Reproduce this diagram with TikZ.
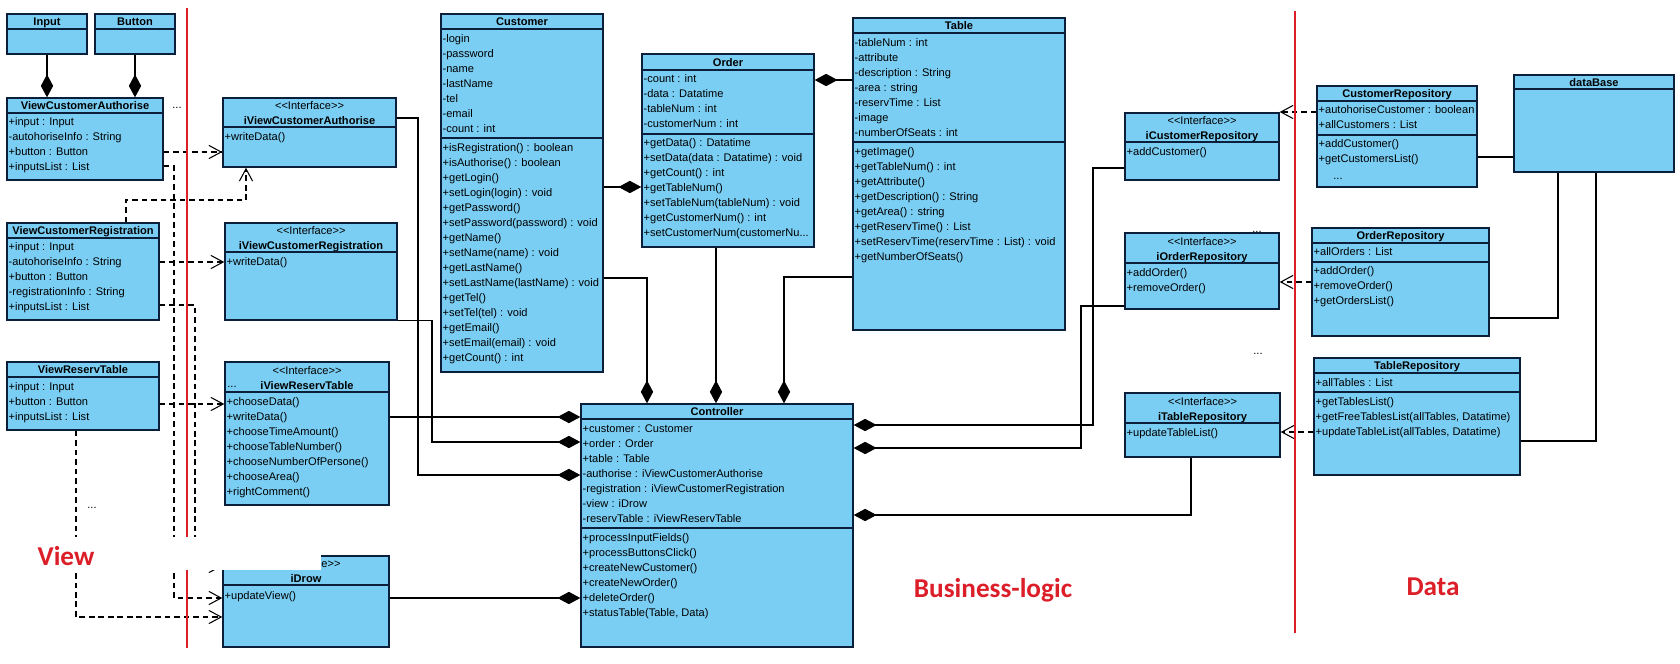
\documentclass[tikz,border=0pt]{standalone}
\usepackage{fontspec}
\setmainfont{Liberation Sans}
\newfontfamily\lblfont{Carlito}
\usetikzlibrary{arrows.meta,calc,fit}
\definecolor{cbox}{HTML}{7ACEF4}
\definecolor{cedge}{HTML}{0B1F3A}
\definecolor{rule}{HTML}{DC1E28}

% box of a class, from its corners (pixel units)
\newcommand\umlclass[5]{\node[cls,fit={(#2,#3) (#4,#5)}] (#1) {};}
\newcommand\classrule[2]{\draw[cedge,line width=.8pt] (#1.west |- 0,#2) -- (#1.east |- 0,#2);}
\newcommand\entries[3]{\foreach \entry [count=\i from 0] in {#3}
  \node[row] (#1-#2-\i) at ($(#1.west |- 0,#2)+(2,15*\i+3.5)$) {\entry};}
\newcommand\stereo{<\kern0pt<Interface>\kern0pt>}

\begin{document}
\begin{tikzpicture}[x=0.02cm,y=-0.02cm,
  cls/.style={draw=cedge,fill=cbox,line width=.8pt,inner sep=0pt},
  row/.style={anchor=base west,inner sep=0pt,font=\fontsize{6.3}{7.5}\selectfont},
  ttl/.style={inner sep=0pt,text height=4.6pt,text depth=0pt,font=\fontsize{6.3}{7.5}\selectfont\bfseries},
  ster/.style={inner sep=0pt,text height=4.6pt,text depth=0pt,font=\fontsize{6.3}{7.5}\selectfont},
  link/.style={line width=.6pt},
  comp/.style={link,{Diamond[length=13pt,width=7pt]}-},
  dep/.style={link,dash pattern=on 3.2pt off 2.2pt,-{Straight Barb[length=7pt,width=7.5pt]}},
  layer/.style={draw=rule,line width=1.3pt},
  lbl/.style={text=rule,font=\lblfont\bfseries\fontsize{15.5}{18}\selectfont}]
  \useasboundingbox (0,0) rectangle (1680,663);

  % view
  \umlclass{inp}{7}{14}{87}{54}
  \classrule{inp}{29}
  \node[ttl] (inp-t) at (inp.north |- 0,21.5) {Input};
  \umlclass{btn}{95}{14}{175}{54}
  \classrule{btn}{29}
  \node[ttl] (btn-t) at (btn.north |- 0,21.5) {Button};

  \umlclass{vca}{7}{98}{163}{180}
  \classrule{vca}{113}
  \node[ttl] (vca-t) at (vca.north |- 0,105.5) {ViewCustomerAuthorise};
  \entries{vca}{122}{+input : Input,-autohoriseInfo : String,+button : Button,+inputsList : List}
  \node[row] (vca-d) at (172,108) {...};

  \umlclass{vcr}{7}{223}{159}{320}
  \classrule{vcr}{238}
  \node[ttl] (vcr-t) at (vcr.north |- 0,230.5) {ViewCustomerRegistration};
  \entries{vcr}{247}{+input : Input,-autohoriseInfo : String,+button : Button,-registrationInfo : String,+inputsList : List}

  \umlclass{vrt}{7}{362}{159}{430}
  \classrule{vrt}{377}
  \node[ttl] (vrt-t) at (vrt.north |- 0,369.5) {ViewReservTable};
  \entries{vrt}{387}{+input : Input,+button : Button,+inputsList : List}
  \node[row] (vrt-d) at (87,508) {...};

  \umlclass{ivca}{223}{98}{396}{167}
  \node[ster] (ivca-s) at (ivca.north |- 0,105.5) {\stereo};
  \node[ttl] (ivca-t) at (ivca.north |- 0,120) {iViewCustomerAuthorise};
  \classrule{ivca}{127}
  \entries{ivca}{137}{+writeData()}

  \umlclass{ivcr}{225}{223}{397}{320}
  \node[ster] (ivcr-s) at (ivcr.north |- 0,230.5) {\stereo};
  \node[ttl] (ivcr-t) at (ivcr.north |- 0,245) {iViewCustomerRegistration};
  \classrule{ivcr}{252}
  \entries{ivcr}{262}{+writeData()}

  \umlclass{ivrt}{225}{362}{389}{505}
  \node[ster] (ivrt-s) at (ivrt.north |- 0,370) {\stereo};
  \node[ttl] (ivrt-t) at (ivrt.north |- 0,385) {iViewReservTable};
  \node[row] (ivrt-d) at (227,387) {...};
  \classrule{ivrt}{392}
  \entries{ivrt}{402}{+chooseData(),+writeData(),+chooseTimeAmount(),+chooseTableNumber(),+chooseNumberOfPersone(),+chooseArea(),+rightComment()}

  \umlclass{idrw}{223}{556}{389}{647}
  \node[ster] (idrw-s) at (idrw.north |- 0,563) {\stereo};
  \node[ttl] (idrw-t) at (idrw.north |- 0,578) {iDrow};
  \classrule{idrw}{585}
  \entries{idrw}{596}{+updateView()}

  % business logic
  \umlclass{cust}{441}{14}{603}{372}
  \classrule{cust}{29}
  \node[ttl] (cust-t) at (cust.north |- 0,21.5) {Customer};
  \entries{cust}{39}{-login,-password,-name,-lastName,-tel,-email,-count : int}
  \classrule{cust}{138}
  \entries{cust}{148}{+isRegistration() : boolean,+isAuthorise() : boolean,+getLogin(),+setLogin(login) : void,+getPassword(),+setPassword(password) : void,+getName(),+setName(name) : void,+getLastName(),+setLastName(lastName) : void,+getTel(),+setTel(tel) : void,+getEmail(),+setEmail(email) : void,+getCount() : int}

  \umlclass{ord}{642}{54}{814}{247}
  \classrule{ord}{70}
  \node[ttl] (ord-t) at (ord.north |- 0,62) {Order};
  \entries{ord}{79}{-count : int,-data : Datatime,-tableNum : int,-customerNum : int}
  \classrule{ord}{134}
  \entries{ord}{143}{+getData() : Datatime,+setData(data : Datatime) : void,+getCount() : int,+getTableNum(),+setTableNum(tableNum) : void,+getCustomerNum() : int}
  \node[row] (ord-l) at ($(ord.west |- 0,143)+(2,93.5)$) {+setCustomerNum(customerNu...};

  \umlclass{tbl}{853}{18}{1065}{330}
  \classrule{tbl}{33}
  \node[ttl] (tbl-t) at (tbl.north |- 0,25.5) {Table};
  \entries{tbl}{43}{-tableNum : int,-attribute,-description : String,-area : string,-reservTime : List,-image,-numberOfSeats : int}
  \classrule{tbl}{142}
  \entries{tbl}{152}{+getImage(),+getTableNum() : int,+getAttribute(),+getDescription() : String,+getArea() : string,+getReservTime() : List,+setReservTime(reservTime : List) : void,+getNumberOfSeats()}

  \umlclass{ctrl}{581}{404}{853}{647}
  \classrule{ctrl}{419}
  \node[ttl] (ctrl-t) at (ctrl.north |- 0,411.5) {Controller};
  \entries{ctrl}{429}{+customer : Customer,+order : Order,+table : Table,-authorise : iViewCustomerAuthorise,-registration : iViewCustomerRegistration,-view : iDrow,-reservTable : iViewReservTable}
  \classrule{ctrl}{528}
  \entries{ctrl}{538}{+processInputFields(),+processButtonsClick(),+createNewCustomer(),+createNewOrder(),+deleteOrder(),{+statusTable(Table, Data)}}

  \umlclass{icr}{1125}{113}{1279}{180}
  \node[ster] (icr-s) at (icr.north |- 0,120.5) {\stereo};
  \node[ttl] (icr-t) at (icr.north |- 0,135) {iCustomerRepository};
  \classrule{icr}{142}
  \entries{icr}{152}{+addCustomer()}

  \umlclass{ior}{1125}{233}{1279}{309}
  \node[ster] (ior-s) at (ior.north |- 0,241) {\stereo};
  \node[ttl] (ior-t) at (ior.north |- 0,256) {iOrderRepository};
  \classrule{ior}{263}
  \entries{ior}{273}{+addOrder(),+removeOrder()}
  \node[row] (ior-d) at (1252,232) {...};

  \umlclass{itr}{1125}{393}{1280}{457}
  \node[ster] (itr-s) at (itr.north |- 0,401) {\stereo};
  \node[ttl] (itr-t) at (itr.north |- 0,416) {iTableRepository};
  \classrule{itr}{423}
  \entries{itr}{433}{+updateTableList()}
  \node[row] (itr-d) at (1253,354) {...};

  % data
  \umlclass{crep}{1317}{86}{1477}{187}
  \classrule{crep}{101}
  \node[ttl] (crep-t) at (crep.north |- 0,93.5) {CustomerRepository};
  \entries{crep}{110}{+autohoriseCustomer : boolean,+allCustomers : List}
  \classrule{crep}{135}
  \entries{crep}{144}{+addCustomer(),+getCustomersList()}
  \node[row] (crep-d) at (1333,179) {...};

  \umlclass{orep}{1312}{228}{1489}{336}
  \classrule{orep}{243}
  \node[ttl] (orep-t) at (orep.north |- 0,235.5) {OrderRepository};
  \entries{orep}{252}{+allOrders : List}
  \classrule{orep}{262}
  \entries{orep}{271}{+addOrder(),+removeOrder(),+getOrdersList()}

  \umlclass{trep}{1314}{358}{1520}{475}
  \classrule{trep}{373}
  \node[ttl] (trep-t) at (trep.north |- 0,365.5) {TableRepository};
  \entries{trep}{383}{+allTables : List}
  \classrule{trep}{392}
  \entries{trep}{402}{+getTablesList(),{+getFreeTablesList(allTables, Datatime)},{+updateTableList(allTables, Datatime)}}

  \umlclass{db}{1514}{75}{1674}{172}
  \classrule{db}{89}
  \node[ttl] (db-t) at (db.north |- 0,82) {dataBase};

  % compositions
  \draw[comp] (vca.north -| inp.south) -- (inp.south);
  \draw[comp] (vca.north -| btn.south) -- (btn.south);
  \draw[comp] (ord.west |- 0,187) -- (cust.east |- 0,187);
  \draw[comp] (ord.east |- 0,80) -- (tbl.west |- 0,80);
  \draw[comp] (ctrl.north -| 647,0) |- (cust.east |- 0,278);
  \draw[comp] (ctrl.north -| 716,0) -- (ord.south -| 716,0);
  \draw[comp] (ctrl.north -| 784,0) |- (tbl.west |- 0,277);
  \draw[comp] (ctrl.west |- 0,417) -- (ivrt.east |- 0,417);
  \draw[comp] (ctrl.west |- 0,442) -| (ivcr.south east -| 432,0) -- (ivcr.south east);
  \draw[comp] (ctrl.west |- 0,475) -| (418,118) -- (ivca.east |- 0,118);
  \draw[comp] (ctrl.west |- 0,598) -- (idrw.east |- 0,598);
  \draw[comp] (ctrl.east |- 0,425) -| (1093,168) -- (icr.west |- 0,168);
  \draw[comp] (ctrl.east |- 0,448) -| (1081,306) -- (ior.west |- 0,306);
  \draw[comp] (ctrl.east |- 0,515) -| (itr.south -| 1191,0);

  % associations
  \draw[link] (crep.east |- 0,157) -- (db.west |- 0,157);
  \draw[link] (orep.east |- 0,318) -| (db.south -| 1558,0);
  \draw[link] (trep.east |- 0,441) -| (db.south -| 1596,0);

  % dependencies
  \draw[dep] (vca.east |- 0,152) -- (ivca.west |- 0,152);
  \draw[dep] (vca.east |- 0,166) -| (174,598) -- (idrw.west |- 0,598);
  \draw[dep] (vcr.north -| 126,0) |- (246,200) -- (ivca.south -| 246,0);
  \draw[dep] (vcr.east |- 0,262) -- (ivcr.west |- 0,262);
  \draw[dep] (vcr.east |- 0,305) -| (195,566) -- (idrw.west |- 0,566);
  \draw[dep] (vrt.east |- 0,404) -- (ivrt.west |- 0,404);
  \draw[dep] (vrt.south -| 76,0) |- (idrw.west |- 0,617);
  \draw[dep] (crep.west |- 0,112) -- (icr.east |- 0,112);
  \draw[dep] (orep.west |- 0,282) -- (ior.east |- 0,282);
  \draw[dep] (trep.west |- 0,432) -- (itr.east |- 0,432);

  % layer borders
  \draw[layer] (187,8) -- (187,648);
  \draw[layer] (1295,11) -- (1295,633);
  \fill[white] (0,537) rectangle (321,569.5);

  \node[lbl] (view) at (66,556) {View};
  \node[lbl] (logic) at (993,590) {Business-logic};
  \node[lbl] (data) at (1433,587) {Data};
\end{tikzpicture}
\end{document}
